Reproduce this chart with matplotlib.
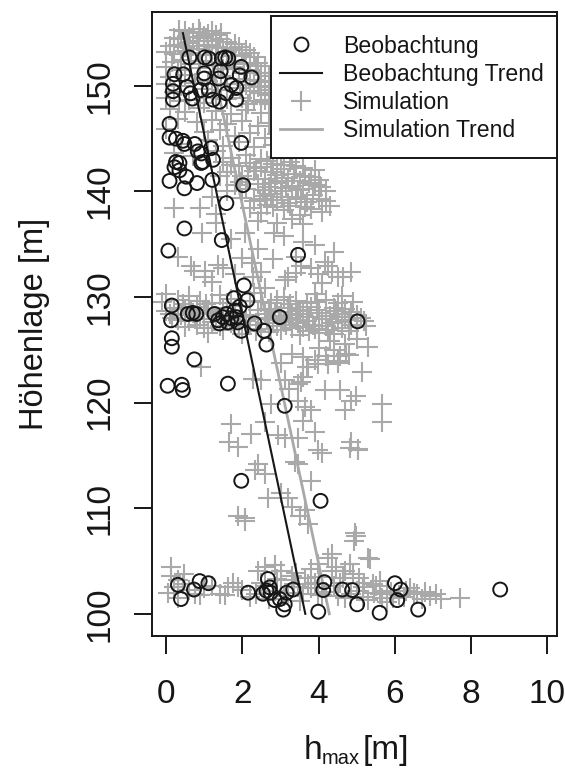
import matplotlib
matplotlib.use('Agg')
import matplotlib.pyplot as plt
from matplotlib.lines import Line2D
from matplotlib.patches import Rectangle

plt.rcParams['font.family'] = ['Liberation Sans', 'DejaVu Sans']

# ---------------- data ----------------
obs_x = [0.61, 1.01, 1.12, 1.46, 1.55, 1.63, 1.97, 2.24, 0.22, 0.45, 0.18, 0.18, 0.18, 0.55, 0.64, 0.69,
         1.0, 1.0, 0.9, 1.12, 1.23, 1.40, 1.43, 1.38, 1.71, 1.84, 1.58, 1.84, 1.93,
         0.09, 0.09, 0.26, 0.44, 0.48, 0.75, 0.83, 0.92, 1.18, 1.23, 0.92, 0.96, 1.97, 0.26, 0.35, 0.22,
         0.35, 0.53, 0.48, 0.09, 0.81, 1.21, 2.02, 1.58, 0.48, 1.46, 0.06, 3.46,
         2.04, 1.78, 2.13, 0.15, 0.13, 0.57, 0.70, 0.79,
         1.27, 1.36, 1.40, 1.49, 1.58, 1.62, 1.71, 1.80, 1.84, 1.88, 1.93, 1.97,
         2.32, 2.57, 2.63, 2.98, 5.02, 0.15, 0.15, 0.74,
         0.04, 0.41, 0.44, 1.62, 3.11, 1.97, 4.05,
         0.31, 0.39, 0.73, 0.88, 1.11, 2.15, 2.54, 2.63, 2.67, 2.72, 2.74, 2.85, 2.98, 3.07, 3.11, 3.16,
         3.33, 3.99, 4.15, 4.12, 4.62, 4.88, 5.01, 5.60, 6.0, 6.15, 6.06, 6.61, 8.76]
obs_y = [152.7, 152.7, 152.6, 152.6, 152.7, 152.6, 151.8, 150.8, 151.1, 151.1, 150.2, 149.5, 148.7, 149.9, 149.3, 148.8,
         151.2, 150.7, 149.6, 149.6, 148.7, 148.5, 151.4, 150.7, 150.1, 149.8, 149.3, 148.7, 151.0,
         146.4, 145.1, 145.0, 144.8, 144.5, 144.5, 143.8, 143.6, 144.1, 143.0, 142.7, 142.8, 144.6, 142.8, 142.7, 142.3,
         142.0, 141.4, 140.3, 141.0, 140.8, 141.1, 140.6, 138.9, 136.5, 135.4, 134.4, 134.0,
         131.1, 129.9, 129.7, 129.2, 127.8, 128.4, 128.5, 128.4,
         128.4, 127.8, 127.5, 128.1, 128.4, 127.6, 128.0, 128.7, 128.1, 127.6, 129.1, 126.8,
         127.5, 126.8, 125.5, 128.1, 127.7, 126.1, 125.3, 124.1,
         121.6, 121.7, 121.2, 121.8, 119.7, 112.6, 110.7,
         102.75, 101.4, 102.3, 103.1, 102.9, 102.0, 101.9, 102.2, 103.3, 102.5, 102.0, 101.3, 101.4, 100.4, 100.9, 102.0,
         102.3, 100.2, 103.0, 102.25, 102.3, 102.25, 100.9, 100.1, 102.9, 102.3, 101.3, 100.4, 102.3]

# simulation, top cluster (~148-155 m)
sim_top_x = [0.5, 0.7, 0.9, 1.1, 1.3, 0.2, 0.4, 0.6, 0.8, 1.0, 1.2, 1.4, 1.6, 1.8,
             0.1, 0.3, 0.5, 0.7, 1.5, 1.7, 1.9, 2.1, 0.0, 0.2, 0.6, 1.3, 2.0, 2.3,
             0.4, 0.9, 1.8, 2.4, 2.6, 0.0, 0.3, 1.5, 2.2, 2.5, 0.1, 1.1, 1.9, 2.3, 2.6, 2.7,
             0.0, 0.4, 2.1, 2.4, 2.6, 2.75, 0.2, 1.2, 2.2, 2.5, 2.7, 0.0, 0.6, 1.6, 2.0, 2.3, 2.6]
sim_top_y = [155.2, 155.0, 155.1, 154.9, 154.8, 154.5, 154.4, 154.6, 154.3, 154.5, 154.3, 154.4, 154.2, 154.0,
             153.8, 153.9, 153.7, 153.8, 153.6, 153.5, 153.7, 153.4, 153.2, 153.0, 153.1, 153.0, 152.9, 152.7,
             152.5, 152.4, 152.3, 152.2, 151.9, 151.8, 151.5, 151.6, 151.5, 151.2, 150.8, 150.5, 150.7, 150.6, 150.4, 150.9,
             150.2, 150.0, 150.1, 149.9, 150.0, 149.6, 149.4, 149.3, 149.5, 149.3, 149.1, 148.9, 148.7, 148.8, 148.9, 148.6, 148.7]
sim_top2_x = [0.35, 0.85, 1.2, 1.45, 1.0, 0.55, 1.1, 1.35, 0.85, 0.45, 1.6, 1.05, 1.75, 2.2, 0.15, 0.65, 1.35, 2.05,
              0.85, 1.25, 1.75, 2.35, 0.5, 1.45, 2.05, 0.75, 1.6, 2.45, 0.95, 1.45, 1.95, 0.35, 1.0, 1.3, 2.15, 2.5, 2.7]
sim_top2_y = [155.3, 155.4, 155.2, 155.0, 154.7, 154.1, 153.9, 153.7, 153.5, 153.3, 153.2, 152.9, 152.8, 153.1, 152.3, 152.1, 152.0, 152.1,
              151.7, 151.3, 151.8, 151.9, 151.0, 150.9, 151.2, 150.3, 150.2, 150.5, 149.7, 149.6, 149.8, 148.6, 148.4, 148.9, 148.3, 148.5, 148.3]

# simulation, 143-148 m
sim_c_x = [0.1, 0.5, 0.9, 1.3, 1.7, 2.1, 2.5, 0.3, 0.8, 1.2, 1.6, 2.0, 2.4, 2.7,
           0.0, 1.0, 1.4, 1.8, 2.2, 2.6, 2.9, 0.4, 1.1, 1.5, 1.9, 2.3, 2.8, 3.1,
           0.2, 0.7, 1.3, 1.7, 2.1, 2.5, 2.9, 3.3]
sim_c_y = [147.8, 147.5, 147.9, 147.6, 147.3, 147.7, 147.4, 146.9, 146.6, 146.8, 146.4, 146.7, 146.2, 146.5,
           145.9, 145.6, 145.8, 145.3, 145.5, 145.1, 145.4, 144.5, 144.9, 144.3, 144.7, 144.2, 144.4, 144.0,
           143.6, 143.4, 143.8, 143.2, 143.5, 143.1, 143.3, 143.2]

# simulation, 137-143 m
sim_d_x = [1.5, 1.9, 2.2, 2.5, 2.8, 3.1, 3.4, 1.6, 2.0, 2.3, 2.6, 2.9, 3.2, 3.5, 3.8,
           1.8, 2.1, 2.4, 2.7, 3.0, 3.3, 3.6, 3.9, 4.2, 2.0, 2.3, 2.6, 2.9, 3.2, 3.4, 3.7, 4.0,
           2.2, 2.5, 2.8, 3.1, 3.5, 3.8, 4.1, 0.2, 0.9, 1.3, 2.4, 2.9, 3.3, 3.6]
sim_d_y = [142.8, 142.4, 142.7, 142.3, 142.6, 142.1, 142.4, 141.8, 141.5, 141.9, 141.2, 141.6, 141.3, 141.0, 141.4,
           140.6, 140.2, 140.7, 140.4, 140.0, 140.5, 140.2, 140.6, 140.0, 139.4, 139.1, 139.6, 139.2, 138.9, 139.5, 139.0, 139.3,
           138.4, 138.0, 138.5, 138.2, 137.8, 138.3, 138.1, 138.4, 138.4, 137.9, 137.2, 137.0, 137.4, 136.9]
sim_d2_x = [1.7, 2.35, 2.65, 3.0, 3.25, 3.6, 3.9, 2.15, 2.75, 3.05, 3.35, 3.65, 4.0,
            1.95, 2.55, 2.85, 3.15, 3.45, 3.75, 4.05, 2.45, 2.75, 3.05, 3.55, 3.85, 4.2,
            2.65, 3.25, 3.65, 4.3, 1.2, 1.6, 1.4]
sim_d2_y = [142.5, 142.2, 142.9, 142.5, 142.8, 142.2, 142.0, 141.2, 141.8, 141.0, 141.7, 141.5, 141.1,
            140.9, 140.1, 140.8, 140.3, 140.1, 140.8, 140.4, 139.3, 139.8, 139.5, 139.3, 139.7, 139.1,
            138.7, 138.6, 138.5, 138.6, 139.5, 140.0, 141.5]

# simulation, 130-137 m
sim_e_x = [0.93, 1.31, 2.07, 2.84, 3.6, 3.9, 3.4, 0.74, 1.03, 1.5, 2.27, 2.6, 3.2, 3.8, 4.17, 4.36, 4.64,
           0.66, 1.01, 1.36, 1.80, 2.24, 2.50, 3.11, 3.55, 3.99, 4.25, 4.51, 4.86,
           1.7, 2.4, 3.1, 4.4, 0.3, 2.0, 2.8, 3.4, 1.2, 4.1]
sim_e_y = [136.1, 137.0, 136.1, 136.1, 135.2, 134.9, 133.8, 132.5, 131.9, 132.8, 131.9, 130.9, 131.9, 132.8, 133.3, 132.4, 131.9,
           132.9, 132.5, 133.0, 132.2, 133.2, 132.4, 131.6, 132.9, 132.2, 132.9, 131.9, 132.4,
           135.5, 134.6, 135.8, 134.3, 133.8, 133.7, 133.6, 132.3, 131.4, 131.3]

# simulation, 126-130 m band
sim_f_x = [0.0, 0.6, 1.4, 2.3, 3.1, 3.9, 4.6,
           -0.1, 0.3, 0.9, 1.2, 1.7, 2.5, 2.9, 3.4, 3.7, 4.2, 4.9,
           0.2, 0.5, 0.8, 1.1, 1.5, 2.0, 2.7, 3.2, 3.5, 3.8, 4.4, 4.7,
           0.1, 0.4, 0.7, 1.0, 1.3, 1.8, 2.2, 2.6, 3.0, 3.3, 3.6, 4.0, 4.3, 4.6, 5.0,
           0.3, 0.6, 0.9, 1.2, 1.6, 2.1, 2.4, 2.8, 3.1, 3.4, 3.7, 4.1, 4.5, 4.8, 5.2,
           0.5, 1.0, 1.4, 1.9, 2.5, 2.9, 3.3, 3.6, 3.9, 4.2, 4.6, 5.0,
           1.1, 2.0, 2.7, 3.5, 4.0, 4.4]
sim_f_y = [130.3, 130.1, 130.2, 130.4, 130.0, 130.3, 130.1,
           129.5, 129.7, 129.6, 129.4, 129.8, 129.5, 129.7, 129.6, 129.4, 129.7, 129.5,
           129.0, 128.9, 129.1, 128.8, 129.0, 129.2, 128.9, 129.0, 128.8, 129.1, 129.0, 128.9,
           128.4, 128.3, 128.5, 128.4, 128.2, 128.5, 128.3, 128.4, 128.6, 128.3, 128.4, 128.5, 128.2, 128.4, 128.3,
           127.8, 127.7, 127.9, 127.6, 127.8, 127.7, 127.9, 127.8, 127.6, 127.8, 127.7, 127.9, 127.6, 127.8, 127.7,
           127.2, 127.1, 127.3, 127.2, 127.0, 127.3, 127.1, 127.2, 127.0, 127.3, 127.1, 127.2,
           126.6, 126.5, 126.7, 126.4, 126.6, 126.5]
sim_f2_x = [0.45, 1.05, 1.6, 2.2, 2.75, 3.25, 3.95, 4.5,
            0.0, 0.65, 1.2, 1.6, 2.4, 2.85, 3.45, 3.95, 4.45, 4.85,
            0.15, 0.75, 1.45, 1.95, 2.65, 2.95, 3.25, 3.75, 4.2, 4.7, 5.1,
            0.8, 1.7, 2.2, 2.7, 3.15, 3.45, 3.85, 4.35, 4.85, 5.25,
            1.5, 2.35, 3.0, 3.75, 4.25, 4.8]
sim_f2_y = [129.3, 129.3, 129.4, 129.6, 129.4, 129.3, 129.5, 129.4,
            128.7, 128.7, 128.6, 128.7, 128.8, 128.6, 128.7, 128.8, 128.7, 128.6,
            128.0, 128.1, 128.0, 128.1, 128.0, 128.2, 128.0, 128.1, 127.9, 128.1, 128.0,
            127.4, 127.5, 127.4, 127.5, 127.4, 127.5, 127.4, 127.5, 127.4, 127.3,
            126.9, 126.8, 126.9, 126.8, 126.9, 126.8]

# simulation, 119-126 m
sim_g_x = [0.92, 2.50, 3.11, 3.46, 3.59, 3.73, 3.99, 4.25, 4.51, 5.13, 4.16, 4.56, 4.86, 4.69, 5.65,
           2.76, 3.46, 3.64, 3.81, 3.6, 3.9, 4.2, 4.5, 4.8, 4.73, 4.55, 3.69, 3.55, 3.21, 2.27, 4.97,
           3.3, 3.0, 4.0, 4.4, 4.7, 5.0, 5.3, 4.3]
sim_g_y = [123.4, 122.1, 122.1, 121.8, 122.4, 123.4, 123.7, 123.7, 123.8, 122.9, 121.2, 121.2, 120.2, 119.3, 119.9,
           119.9, 120.2, 119.6, 119.3, 124.3, 124.0, 124.4, 123.9, 124.5, 124.6, 124.4, 123.4, 122.0, 121.3, 122.2, 120.6,
           124.6, 123.8, 125.2, 125.0, 125.6, 126.0, 125.3, 125.8]

# simulation, 105-119 m
sim_h_x = [5.65, 1.71, 2.58, 2.94, 3.11, 3.46, 3.90, 1.66, 1.88, 2.23, 3.99, 4.08, 4.86, 5.04,
           2.41, 2.32, 2.58, 3.37, 3.46, 3.81, 2.67, 3.02, 3.20, 3.29, 3.64, 3.73, 1.88, 2.06,
           4.95, 4.34, 5.3, 3.59, 4.83, 5.02, 4.98, 4.93, 2.07, 3.5]
sim_h_y = [118.2, 118.0, 118.2, 116.9, 116.7, 116.7, 117.2, 116.3, 115.8, 117.0, 115.5, 115.2, 116.3, 115.6,
           114.2, 113.6, 113.2, 114.4, 114.2, 112.6, 111.0, 111.4, 111.0, 110.1, 109.8, 108.5, 109.3, 109.1,
           107.7, 105.7, 105.3, 118.3, 115.7, 115.5, 107.4, 106.9, 108.8, 109.3]

# simulation, 100-105 m band
sim_j_x = [0.13, 0.13, 0.48, 0.04, 0.31, 1.62, 1.88, 2.41, 2.58, 2.85, 3.02, 3.29, 3.64, 3.81, 3.99, 4.25, 4.34, 4.69,
           3.46, 3.73, 3.99, 4.46, 4.81, 5.34, 4.64, 5.07, 5.16, 5.42, 5.60, 5.78, 5.95, 6.30, 6.57, 6.92, 7.09, 7.70,
           0.6, 0.9, 1.2, 1.4, 2.0, 2.2, 2.5, 2.7, 3.0, 3.2, 3.5, 3.8, 4.1, 4.4, 4.7, 5.0, 5.3, 5.5, 5.8, 6.1, 6.4, 6.7]
sim_j_y = [104.4, 103.6, 103.8, 102.0, 101.5, 102.5, 102.5, 104.1, 104.4, 104.6, 104.1, 103.6, 103.4, 104.2, 104.7, 105.3, 104.1, 104.1,
           102.5, 102.8, 101.9, 104.4, 104.7, 105.2, 103.4, 103.4, 102.5, 102.8, 101.9, 102.2, 101.5, 102.2, 101.9, 101.7, 101.9, 101.5,
           102.3, 101.8, 102.6, 101.9, 102.3, 101.6, 102.9, 101.4, 103.2, 102.0, 101.2, 102.4, 101.8, 102.6, 101.5, 102.2, 101.3, 102.6, 101.1, 101.8, 102.4, 101.4]
sim_j2_x = [0.2, 0.45, 0.75, 1.0, 1.55, 1.75, 2.35, 2.6, 2.85, 3.1, 3.35, 3.6, 3.9, 4.2, 4.5, 4.55, 4.85, 5.15, 5.2, 5.45,
            5.65, 5.9, 6.25, 6.5, 6.8, 7.2, 2.9, 3.4, 4.0, 4.9, 5.6, 0.3]
sim_j2_y = [102.5, 102.8, 101.9, 102.4, 101.8, 102.9, 101.9, 102.6, 102.2, 101.7, 102.8, 101.9, 102.9, 102.1, 101.7, 102.9, 101.9, 101.6, 102.9, 102.0,
            101.5, 102.1, 101.6, 102.0, 102.1, 101.4, 103.3, 103.9, 103.5, 103.8, 103.1, 103.2]

sim_x = (sim_top_x + sim_top2_x + sim_c_x + sim_d_x + sim_d2_x + sim_e_x + sim_f_x + sim_f2_x
         + sim_g_x + sim_h_x + sim_j_x + sim_j2_x)
sim_y = (sim_top_y + sim_top2_y + sim_c_y + sim_d_y + sim_d2_y + sim_e_y + sim_f_y + sim_f2_y
         + sim_g_y + sim_h_y + sim_j_y + sim_j2_y)

# trend lines
obs_trend_x = [0.44, 3.65]
obs_trend_y = [155.0, 100.0]
sim_trend_x = [1.04, 4.28]
sim_trend_y = [155.0, 100.0]

x_ticks = [0, 2, 4, 6, 8, 10]
y_ticks = [100, 110, 120, 130, 140, 150]
legend_labels = ["Beobachtung", "Beobachtung Trend", "Simulation", "Simulation Trend"]

GRAY = '#a9a9a9'
INK = '#161616'

# ---------------- figure ----------------
W, H = 565, 772
fig = plt.figure(figsize=(W / 100, H / 100), dpi=100)
L, R, T, B = 152, 557, 12, 636
ax = fig.add_axes([L / W, 1 - B / H, (R - L) / W, (B - T) / H])

ax.scatter(sim_x, sim_y, marker='+', s=190, color=GRAY, linewidths=1.5, zorder=2)
ax.plot(sim_trend_x, sim_trend_y, color=GRAY, lw=2.0, zorder=3)
ax.scatter(obs_x, obs_y, marker='o', s=100, facecolors='none', edgecolors=INK, linewidths=1.4, zorder=4)
ax.plot(obs_trend_x, obs_trend_y, color=INK, lw=1.5, zorder=5)

ax.set_xlim(-0.37, 10.25)
ax.set_ylim(97.9, 157.0)
ax.set_xticks(x_ticks)
ax.set_yticks(y_ticks)
ax.set_xticklabels([str(v) for v in x_ticks])
ax.set_yticklabels([str(v) for v in y_ticks], rotation=90, va='center')
ax.tick_params(axis='both', direction='out', length=13, width=1.4, labelsize=24, color=INK, labelcolor=INK)
ax.tick_params(axis='x', pad=18)
ax.tick_params(axis='y', pad=13.5)
for sp in ax.spines.values():
    sp.set_linewidth(1.4)
    sp.set_color(INK)

# legend: frame drawn as a patch, entries placed by ax.legend
frame = Rectangle((271 / W, 1 - 158 / H), (R - 271) / W, (158 - 16) / H, transform=fig.transFigure,
                  facecolor='white', edgecolor=INK, linewidth=1.4, zorder=8, clip_on=False)
ax.add_patch(frame)
handles = [
    Line2D([], [], marker='o', ls='none', markersize=10, markerfacecolor='none', markeredgecolor=INK, markeredgewidth=1.4),
    Line2D([], [], color=INK, lw=1.5),
    Line2D([], [], marker='+', ls='none', markersize=13.8, color=GRAY, markeredgewidth=1.5),
    Line2D([], [], color=GRAY, lw=2.0),
]
leg = ax.legend(handles, legend_labels, loc='upper left', bbox_to_anchor=(280 / W, 1 - 34.5 / H),
                bbox_transform=fig.transFigure, borderaxespad=0, borderpad=0, fontsize=16.6, frameon=False,
                handlelength=1.82, handletextpad=0.9, labelspacing=0.22)
for t in leg.get_texts():
    t.set_color(INK)
leg.set_zorder(10)

fig.text(35 / W, 1 - 324 / H, 'Höhenlage [m]', rotation=90, ha='center', va='center', fontsize=23.5, color=INK)
# x label: h with subscript "max"
fig.text(304 / W, 1 - 759 / H, 'h', ha='left', va='baseline', fontsize=24, color=INK)
fig.text(322 / W, 1 - 764 / H, 'max', ha='left', va='baseline', fontsize=14.5, color=INK)
fig.text(363 / W, 1 - 759 / H, '[m]', ha='left', va='baseline', fontsize=24, color=INK)

fig.savefig('out.png', dpi=100)
